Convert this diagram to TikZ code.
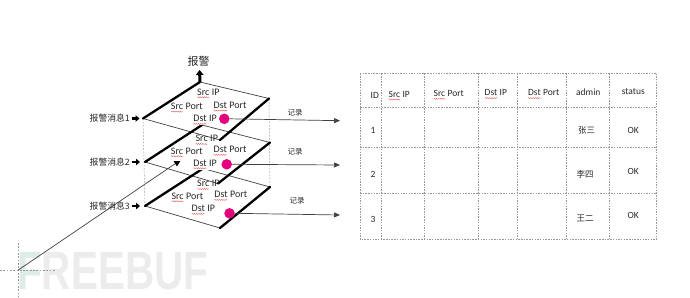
\documentclass[tikz,border=0pt]{standalone}
\usepackage{fontspec}
\setmainfont{Carlito}
\newfontfamily\cjk{Noto Sans CJK SC}
\newfontfamily\wmfont{Liberation Sans}
\usetikzlibrary{arrows.meta,decorations.pathmorphing}
\definecolor{mag}{RGB}{228,0,124}
\definecolor{sqred}{RGB}{225,80,80}
\definecolor{txt}{RGB}{40,40,40}
\definecolor{wmgray}{RGB}{236,236,236}
\definecolor{wmteal}{RGB}{222,236,231}
\newcommand\sq[1]{\tikz[baseline=(sqw.base),x=1pt,y=1pt]{\node[inner sep=0pt,outer sep=0pt,draw=none,fill=none,anchor=base west](sqw) at (0,0){#1};\draw[draw=sqred,fill=none,line width=0.35pt,decorate,decoration={snake,amplitude=0.55pt,segment length=2.2pt}] ([yshift=-2.2pt]sqw.base west) -- ([yshift=-2.2pt]sqw.base east);}}
\begin{document}
\begin{tikzpicture}[x=1pt,y=-1pt,
  thk/.style={line width=2.3pt,line cap=round},
  thn/.style={line width=0.7pt,draw=black!75},
  guide/.style={draw=black!40,dash pattern=on 1.8pt off 1.5pt,line width=0.5pt},
  tline/.style={draw=black!40,dash pattern=on 1.5pt off 1.2pt,line width=0.55pt},
  lyr/.style={font=\fontsize{10}{12}\selectfont,text=txt,inner sep=0.6pt},
  lyrw/.style={lyr,fill=white},
  tbl/.style={font=\fontsize{9.5}{12}\selectfont,text=txt,inner sep=0pt},
  tcjk/.style={font=\cjk\fontsize{8.5}{10}\selectfont,text=txt,inner sep=0pt},
  msg/.style={font=\cjk\fontsize{8.8}{10}\selectfont,text=txt,inner sep=0pt,anchor=east},
  rec/.style={font=\cjk\fontsize{7.5}{9}\selectfont,text=txt,inner sep=0pt},
  dot/.style={circle,fill=mag,minimum size=10.5pt,inner sep=0pt},
  blk/.style={line width=2.6pt,-{Triangle[length=4pt,width=6.5pt]}},
  rarr/.style={thn,-{Triangle[length=6pt,width=5pt]}},
]
\useasboundingbox (0,0) rectangle (690,297);

% watermark
\node[anchor=south west,inner sep=0,text=wmgray,font=\wmfont\bfseries\fontsize{54}{54}\selectfont] (wm) at (17,290) {\scalebox{0.75}[1]{{\color{wmteal}F}REEBUF}};

% crop guides and pointer line
\coordinate (c0) at (18.3,270);
\coordinate (g1) at (0,270);
\coordinate (g2) at (55,270);
\coordinate (g3) at (18.3,243);
\coordinate (g4) at (18.3,297);
\draw[guide] (g1) -- (g2);
\draw[guide] (g3) -- (g4);
\coordinate (tipA) at (175.5,163.5);
\draw[thn] (c0) -- (tipA);
\fill[black] (173.6,161.2) -- (180.2,161.2) -- (177,166.4) -- cycle;

% layer corners
\coordinate (L1) at (143,118.5); \coordinate (T1) at (200,82);    \coordinate (R1) at (269,98.5); \coordinate (B1) at (220,140);
\coordinate (L2) at (145,162);   \coordinate (T2) at (202,125);   \coordinate (R2) at (270,142.5); \coordinate (B2) at (218,183.5);
\coordinate (L3) at (145,206);   \coordinate (T3) at (203,168.5); \coordinate (R3) at (270,187);  \coordinate (B3) at (220,228);

\draw[guide] (L1) -- (L3);
\draw[guide] (R1) -- (R3);
\draw[thn] (T1) -- (R1) (L1) -- (B1) (T2) -- (R2) (L2) -- (B2) (T3) -- (R3) (L3) -- (B3);
\draw[thk] (L1) -- (T1) (R1) -- (B1) (L2) -- (T2) (R2) -- (B2) (L3) -- (T3) (R3) -- (B3);

% layer labels
\node[lyr] (s3) at (208.3,185) {\sq{Src} IP};
\node[lyr] (sp3) at (187.3,197.3) {\sq{Src} Port};
\node[lyr] (dp3) at (230.7,196) {\sq{Dst} Port};
\node[lyrw] (di3) at (203.3,210) {\sq{Dst} IP};
\node[lyr] (s2) at (206.7,140) {\sq{Src} IP};
\node[lyr] (sp2) at (186.7,152.3) {\sq{Src} Port};
\node[lyr] (dp2) at (230,151) {\sq{Dst} Port};
\node[lyrw] (di2) at (205,164.3) {\sq{Dst} IP};
\node[lyr] (s1) at (208.3,93.3) {\sq{Src} IP};
\node[lyr] (sp1) at (186.7,107.7) {\sq{Src} Port};
\node[lyr] (dp1) at (230,106.7) {\sq{Dst} Port};
\node[lyrw] (di1) at (205,120) {\sq{Dst} IP};

% alarm arrow
\coordinate (up) at (199.5,70);
\draw[line width=3pt,-{Triangle[length=5pt,width=7.5pt]}] (T1) -- (up);
\node[font=\cjk\fontsize{11}{12}\selectfont,text=txt,inner sep=0pt] (alarm) at (198.5,61.5) {报警};

% messages
\node[msg] (m1) at (130,118.5) {报警消息1};
\node[msg] (m2) at (130,162) {报警消息2};
\node[msg] (m3) at (130,206) {报警消息3};
\draw[blk,shorten <=1.5pt,shorten >=3.5pt] (m1.east) -- (L1);
\draw[blk,shorten <=1.5pt,shorten >=5pt] (m2.east) -- (L2);
\draw[blk,shorten <=1.5pt,shorten >=5pt] (m3.east) -- (L3);

% dots and record arrows
\node[dot] (c1) at (224.3,118.8) {};
\node[dot] (c2) at (226.7,164.3) {};
\node[dot] (c3) at (229.5,213.3) {};
\coordinate (e1) at (340,120.7);
\coordinate (e2) at (340,165);
\coordinate (e3) at (340,215);
\draw[rarr] (c1.east) -- (e1);
\draw[rarr] (c2.east) -- (e2);
\draw[rarr] (c3.east) -- (e3);
\node[rec] (r1) at (295,113) {记录};
\node[rec] (r2) at (295,152) {记录};
\node[rec] (r3) at (297,201) {记录};

% table
\draw[tline] (360,73.3) rectangle (656.7,239);
\foreach \x in {381.7,424.3,478.3,517.7,566.7,609} \draw[tline] (\x,73.3) -- (\x,239);
\foreach \y in {107.3,147.7,193.3} \draw[tline] (360,\y) -- (656.7,\y);

\node[tbl,anchor=west] (hid) at (370.5,95.7) {ID};
\node[tbl,anchor=west] (hsip) at (388.3,95.7) {\sq{Src} IP};
\node[tbl,anchor=west] (hsp) at (433.3,95) {\sq{Src} Port};
\node[tbl,anchor=west] (hdip) at (484.3,94.3) {\sq{Dst} IP};
\node[tbl,anchor=west] (hdp) at (527.7,94.3) {\sq{Dst} Port};
\node[tbl] (had) at (588.3,92.3) {admin};
\node[tbl] (hst) at (633.3,91.7) {status};

\node[tbl,anchor=west] (id1) at (370.5,130) {1};
\node[tbl,anchor=west] (id2) at (370.5,174.3) {2};
\node[tbl,anchor=west] (id3) at (370.5,219) {3};
\node[tcjk] (ad1) at (586.7,130) {张三};
\node[tcjk] (ad2) at (585,174) {李四};
\node[tcjk] (ad3) at (585,218.3) {王二};
\node[tbl] (ok1) at (633.3,130.7) {OK};
\node[tbl] (ok2) at (633.3,171.7) {OK};
\node[tbl] (ok3) at (633.3,215.7) {OK};
\end{tikzpicture}
\end{document}
